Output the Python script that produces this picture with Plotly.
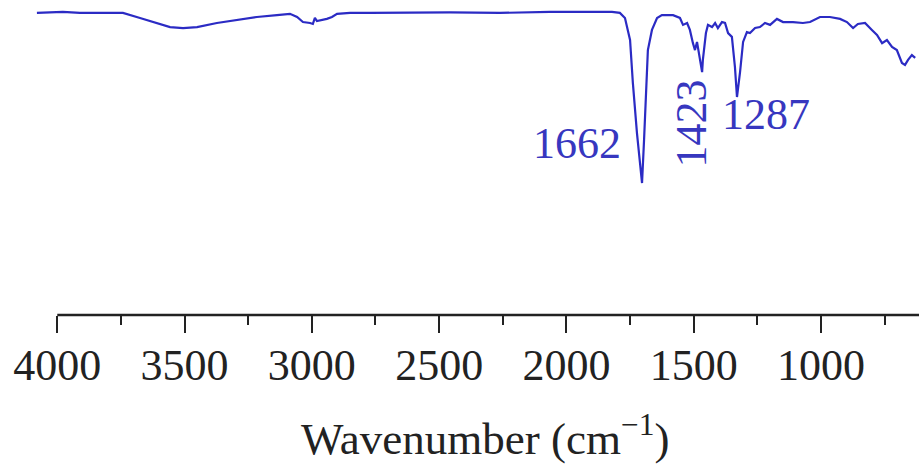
import plotly.graph_objects as go

# IR spectrum (wavenumber in cm^-1, transmittance in arbitrary %)
wavenumber = [4080, 4029, 3978, 3911, 3844, 3742, 3675, 3608, 3557, 3506, 3451, 3373,
              3294, 3216, 3137, 3086, 3058, 3035, 3007, 2996, 2988, 2980, 2941, 2921,
              2901, 2850, 2772, 2654, 2457, 2261, 2065, 1868, 1821, 1790, 1770, 1750,
              1739, 1723, 1711, 1703, 1695, 1687, 1680, 1664, 1644, 1625, 1581, 1554,
              1542, 1526, 1515, 1503, 1495, 1487, 1475, 1467, 1464, 1452, 1444, 1428,
              1416, 1405, 1389, 1377, 1365, 1350, 1338, 1330, 1318, 1306, 1291, 1279,
              1259, 1240, 1220, 1200, 1173, 1149, 1110, 1071, 1043, 1004, 965, 925,
              898, 874, 855, 827, 800, 780, 760, 741, 721, 702, 682, 670, 658, 643, 630]
transmittance = [95.9, 96.0, 96.2, 95.9, 95.9, 95.9, 94.3, 92.7, 91.4, 91.1, 91.4, 92.7,
                 93.7, 94.6, 95.2, 95.6, 94.6, 93.0, 92.7, 92.4, 94.3, 93.3, 94.0, 94.6,
                 95.6, 95.9, 95.9, 96.0, 96.1, 95.9, 96.2, 96.2, 96.2, 95.9, 94.3, 87.3,
                 73.7, 57.8, 47.0, 41.9, 55.6, 73.7, 84.1, 90.5, 94.3, 95.2, 95.2, 94.3,
                 92.1, 92.7, 90.5, 86.3, 84.1, 86.7, 80.0, 77.1, 81.0, 89.5, 92.1, 91.4,
                 92.7, 91.1, 93.0, 92.7, 89.5, 88.3, 78.7, 69.2, 77.1, 86.7, 89.8, 89.5,
                 91.1, 91.4, 92.7, 92.1, 94.0, 93.0, 93.0, 92.7, 93.0, 94.6, 94.6, 94.0,
                 93.0, 91.1, 92.4, 92.7, 90.5, 88.9, 86.3, 87.3, 85.1, 84.1, 80.0, 79.4,
                 81.0, 82.5, 81.6]

peak_labels = ["1662", "1423", "1287"]
peak_label_x = [1959, 1507, 1216]
peak_label_y = [54.3, 60.8, 63.8]
peak_label_angle = [0, -90, 0]

tick_values = [4000, 3500, 3000, 2500, 2000, 1500, 1000]
tick_labels = ["4000", "3500", "3000", "2500", "2000", "1500", "1000"]
minor_tick_values = [3750, 3250, 2750, 2250, 1750, 1250, 750]

line_color = "#2b2bc4"
text_color = "#3737bf"
serif = "Liberation Serif, Times New Roman, serif"

fig = go.Figure()
fig.add_trace(go.Scatter(x=wavenumber, y=transmittance, mode="lines",
                         line=dict(color=line_color, width=2.2), showlegend=False,
                         hoverinfo="skip"))

for txt, xv, yv, ang in zip(peak_labels, peak_label_x, peak_label_y, peak_label_angle):
    fig.add_annotation(x=xv, y=yv, xref="x", yref="y", text=txt, showarrow=False,
                       textangle=ang, font=dict(family=serif, size=44, color=text_color))

# axis line starting at 4000
fig.add_shape(type="line", xref="x", yref="paper", x0=tick_values[0], x1=615, y0=0, y1=0,
              line=dict(color="#222222", width=2.5))

fig.add_annotation(xref="paper", yref="paper", x=485 / 919, y=-0.286, yanchor="top",
                   text="Wavenumber (cm<sup>−1</sup>)", showarrow=False,
                   font=dict(family=serif, size=45, color="#222222"))

fig.update_layout(
    width=919, height=465,
    margin=dict(l=0, r=0, t=0, b=150),
    paper_bgcolor="white", plot_bgcolor="white",
    xaxis=dict(range=[4225, 615], showgrid=False, zeroline=False, showline=False,
               ticks="outside", ticklen=17, tickwidth=2, tickcolor="#222222",
               tickvals=tick_values, ticktext=tick_labels, ticklabelstandoff=-6,
               tickfont=dict(family=serif, size=44, color="#222222"),
               minor=dict(ticks="outside", ticklen=9, tickwidth=2, tickcolor="#222222",
                          tickvals=minor_tick_values)),
    yaxis=dict(range=[0, 100], visible=False),
)

fig.write_html("out.html", config={"displayModeBar": False},
               post_script="document.body.style.margin='0px';")
